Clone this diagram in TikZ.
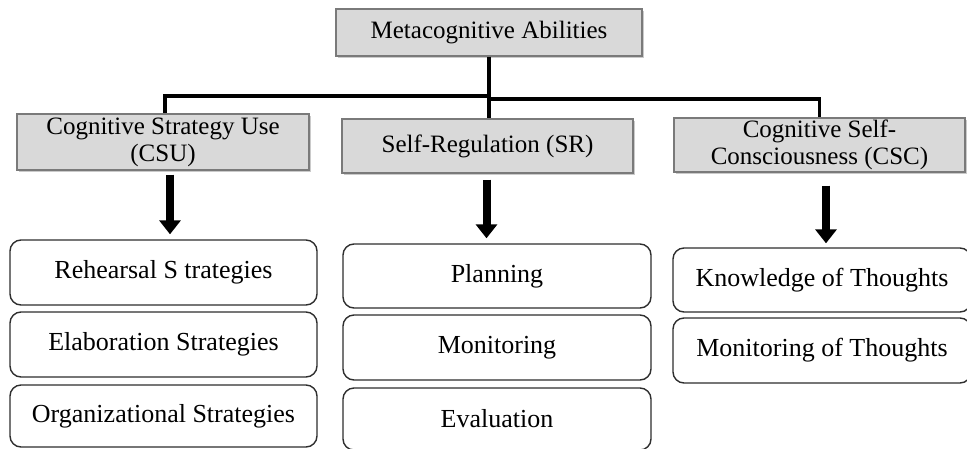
\documentclass[tikz,border=0pt]{standalone}
\usepackage{fontspec}
\setmainfont{Liberation Serif}
\usetikzlibrary{arrows.meta,shadows,calc}
\definecolor{boxgray}{HTML}{D9D9D9}
\definecolor{boxline}{HTML}{7A7A7A}
\definecolor{listline}{HTML}{2E2E2E}
\begin{document}
\begin{tikzpicture}[x=1pt,y=-1pt,
  font=\fontsize{25pt}{27pt}\selectfont,
  headbox/.style={draw=boxline,line width=1.2pt,fill=boxgray,align=center,inner sep=0pt,
     drop shadow={shadow xshift=1.5pt,shadow yshift=-2pt,opacity=0.35,fill=black!60}},
  listbox/.style={draw=listline,line width=1.4pt,rounded corners=11pt,fill=white,align=center,inner sep=0pt,
     font=\fontsize{26pt}{28pt}\selectfont},
  conn/.style={line width=3.5pt,black},
  bigarrow/.style={line width=8pt,black,-{Triangle[width=21pt,length=14pt]}}]
\useasboundingbox (0,0) rectangle (967,448);
% header boxes
\node[headbox,minimum width=306pt,minimum height=47pt] (top) at (489,32.5) {Metacognitive Abilities};
\node[headbox,minimum width=292pt,minimum height=56pt] (csu) at (163,142) {Cognitive Strategy Use\\(CSU)};
\node[headbox,minimum width=291pt,minimum height=54pt] (sr) at (487.5,146) {Self-Regulation (SR)};
\node[headbox,minimum width=291pt,minimum height=54pt] (csc) at (819.5,145) {Cognitive Self-\\Consciousness (CSC)};
% list boxes
\node[listbox,minimum width=307pt,minimum height=65pt] (r1) at (163.5,272.5) {Rehearsal S trategies};
\node[listbox,minimum width=307pt,minimum height=65pt] (r2) at (163.5,344.5) {Elaboration Strategies};
\node[listbox,minimum width=307pt,minimum height=62pt] (r3) at (163.5,416) {Organizational Strategies};
\node[listbox,minimum width=308pt,minimum height=64pt] (s1) at (497,276) {Planning};
\node[listbox,minimum width=308pt,minimum height=65pt] (s2) at (497,347.5) {Monitoring};
\node[listbox,minimum width=308pt,minimum height=62pt] (s3) at (497,419) {Evaluation};
\node[listbox,minimum width=298pt,minimum height=64pt] (c1) at (822,280) {Knowledge of Thoughts};
\node[listbox,minimum width=298pt,minimum height=65pt] (c2) at (822,350.5) {Monitoring of Thoughts};
% tree connectors
\coordinate (jl) at (489,96);
\coordinate (jr) at (489,99);
\draw[conn] (top.south) -- (top.south |- sr.north);
\draw[conn] (jl) -| ([xshift=2pt]csu.north);
\draw[conn] (jr) -| (csc.north);
% big arrows
\draw[bigarrow] ([xshift=7pt,yshift=-4pt]csu.south) -- ([xshift=7pt,yshift=5pt]csu.south |- r1.north);
\draw[bigarrow] ([xshift=-1pt,yshift=-6pt]sr.south) -- ([xshift=-1pt,yshift=5pt]sr.south |- s1.north);
\draw[bigarrow] ([xshift=6.5pt,yshift=-13pt]csc.south) -- ([xshift=6.5pt,yshift=4pt]csc.south |- c1.north);
\end{tikzpicture}
\end{document}
